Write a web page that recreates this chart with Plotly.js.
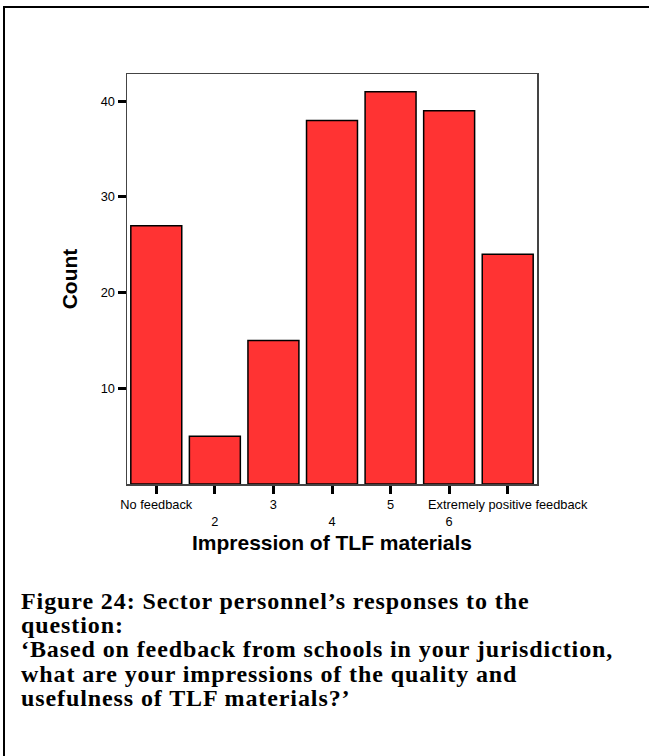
<!DOCTYPE html>
<html>
<head>
<meta charset="utf-8">
<script src="https://cdn.plot.ly/plotly-3.0.1.min.js"></script>
<style>
  body { margin: 0; background: #fff; }
  #wrap { position: relative; width: 649px; height: 756px; }
  #frame { position: absolute; left: 3px; top: 6px; right: 0; bottom: 0;
           border-top: 2px solid #000; border-left: 2px solid #000; pointer-events: none; }
  .annotation-text { letter-spacing: 0.9px; }
</style>
</head>
<body>
<div id="wrap">
  <div id="plot"></div>
  <div id="frame"></div>
</div>
<script>
document.addEventListener("DOMContentLoaded", function() {
    // Categories and counts
    var categories = ['No feedback', '2', '3', '4', '5', '6', 'Extremely positive feedback'];
    var counts = [27, 5, 15, 38, 41, 39, 24];
    // Tick labels are staggered on two rows
    var tickLabels = ['No feedback', '<br>2', '3', '<br>4', '5', '<br>6', 'Extremely positive feedback'];
    var yTicks = [10, 20, 30, 40];

    var captionLines = [
        'Figure 24: Sector personnel\u2019s responses to the',
        'question:',
        '\u2018Based on feedback from schools in your jurisdiction,',
        'what are your impressions of the quality and',
        'usefulness of TLF materials?\u2019'
    ];

    var trace = {
        x: categories,
        y: counts,
        type: 'bar',
        marker: { color: '#ff3333', line: { color: '#000', width: 1.5 } },
        hoverinfo: 'x+y'
    };

    // Caption, one annotation per line so the line spacing can be tight
    var annotations = captionLines.map(function(line, i) {
        return {
            text: '<b>' + line + '</b>',
            xref: 'paper', yref: 'paper',
            x: (19 - 127) / 410,
            y: (484 - (601 + 24.2 * i)) / 410,
            xanchor: 'left', yanchor: 'middle',
            showarrow: false,
            font: { family: 'Liberation Serif, Times New Roman, serif', size: 24, color: '#000' }
        };
    });

    var axisFont = { family: 'Liberation Sans, Arial, sans-serif', size: 12.8, color: '#000' };

    var layout = {
        width: 649,
        height: 756,
        margin: { l: 127, r: 112, t: 74, b: 272 },
        paper_bgcolor: '#fff',
        plot_bgcolor: '#fff',
        showlegend: false,
        bargap: 0.13,
        xaxis: {
            type: 'category',
            tickvals: categories,
            ticktext: tickLabels,
            tickangle: 0,
            ticks: 'outside',
            ticklen: 8,
            tickwidth: 3,
            tickcolor: '#000',
            tickfont: axisFont,
            showline: true,
            linecolor: '#444',
            linewidth: 1.5,
            mirror: true,
            showgrid: false,
            zeroline: false,
            title: {
                text: '<b>Impression of TLF materials</b>',
                font: { family: 'Liberation Sans, Arial, sans-serif', size: 21, color: '#000' },
                standoff: 8
            }
        },
        yaxis: {
            range: [0, 42.85],
            tickvals: yTicks,
            ticks: 'outside',
            ticklen: 8,
            tickwidth: 3,
            tickcolor: '#000',
            tickfont: axisFont,
            showline: true,
            linecolor: '#444',
            linewidth: 1.5,
            mirror: true,
            showgrid: false,
            zeroline: false,
            title: {
                text: '<b>Count</b>',
                font: { family: 'Liberation Sans, Arial, sans-serif', size: 21, color: '#000' },
                standoff: 17
            }
        },
        annotations: annotations
    };

    Plotly.newPlot('plot', [trace], layout, { displayModeBar: false, staticPlot: true });
});
</script>
</body>
</html>
